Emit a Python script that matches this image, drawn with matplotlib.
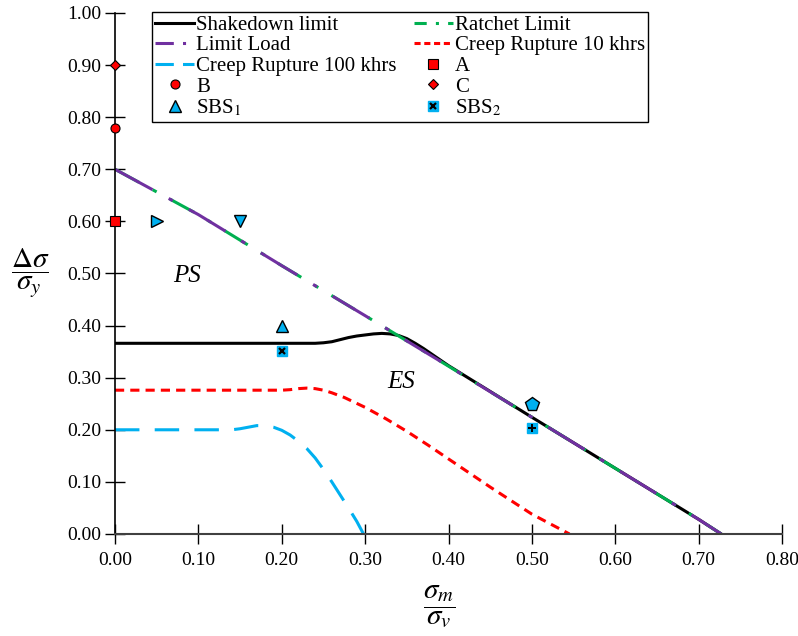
import numpy as np
import matplotlib.pyplot as plt
from matplotlib.lines import Line2D

plt.rcParams['font.family'] = ['Liberation Serif', 'DejaVu Serif']
plt.rcParams['mathtext.fontset'] = 'stix'

# curves (x = sigma_m / sigma_y, y = delta sigma / sigma_y)
limit_x = [0.0, 0.10, 0.20, 0.30, 0.40, 0.50, 0.60, 0.70, 0.727]
limit_y = [0.700, 0.613, 0.515, 0.419, 0.322, 0.224, 0.126, 0.028, 0.0]

shake_x = [0.0, 0.10, 0.20, 0.24, 0.25, 0.26, 0.27, 0.28, 0.29, 0.30, 0.31, 0.32, 0.33, 0.34,
           0.35, 0.36, 0.37, 0.38, 0.39, 0.40, 0.50, 0.60, 0.70, 0.727]
shake_y = [0.366, 0.366, 0.366, 0.366, 0.367, 0.369, 0.373, 0.377, 0.380, 0.382, 0.384, 0.385,
           0.384, 0.381, 0.375, 0.366, 0.356, 0.345, 0.334, 0.323, 0.224, 0.126, 0.028, 0.0]

cr10_x = [0.0, 0.10, 0.20, 0.21, 0.22, 0.23, 0.24, 0.25, 0.26, 0.275, 0.30, 0.325, 0.35,
          0.375, 0.40, 0.45, 0.50, 0.545]
cr10_y = [0.276, 0.276, 0.276, 0.277, 0.279, 0.280, 0.279, 0.276, 0.271, 0.262, 0.243, 0.221,
          0.197, 0.171, 0.144, 0.090, 0.038, 0.0]

cr100_x = [0.0, 0.10, 0.14, 0.15, 0.16, 0.17, 0.18, 0.19, 0.20, 0.21, 0.22, 0.23, 0.24,
           0.25, 0.26, 0.27, 0.28, 0.29, 0.298]
cr100_y = [0.200, 0.200, 0.200, 0.202, 0.205, 0.208, 0.208, 0.205, 0.199, 0.190, 0.178, 0.164,
           0.146, 0.124, 0.100, 0.075, 0.050, 0.024, 0.0]

# test points
pt_a = (0.0, 0.60)
pt_b = (0.0, 0.78)
pt_c = (0.0, 0.90)
sbs1_x = [0.20]
sbs1_y = [0.40]
sbs1_extra = [(0.05, 0.60, '>'), (0.15, 0.60, 'v'), (0.50, 0.25, 'p')]
sbs2_x = [0.20, 0.50]
sbs2_y = [0.352, 0.203]
sbs2_mark = ['x', 'P']

RED = '#FF0000'
BLUE = '#00B0F0'
GREEN = '#00B050'
PURPLE = '#7030A0'

fig = plt.figure(figsize=(7.98, 6.36), dpi=100)
ax = fig.add_axes([0.1441, 0.1604, 0.836, 0.8192])

ax.plot(shake_x, shake_y, color='black', lw=2.2)
ax.plot(limit_x, limit_y, color=GREEN, lw=2.2, dashes=(9, 5, 1.5, 5))
ax.plot(limit_x, limit_y, color=PURPLE, lw=2.2, dashes=(14, 6, 1.5, 6))
ax.plot(cr10_x, cr10_y, color=RED, lw=2.2, dashes=(3, 2))
ax.plot(cr100_x, cr100_y, color=BLUE, lw=2.2, dashes=(8, 5))

# shorter dash patterns for the legend keys
h_shake = Line2D([], [], color='black', lw=2.2)
h_ratch = Line2D([], [], color=GREEN, lw=2.2, dashes=(4, 3, 1, 3))
h_limit = Line2D([], [], color=PURPLE, lw=2.2, dashes=(6, 3, 1, 3))
h_cr10 = Line2D([], [], color=RED, lw=2.2, dashes=(2, 1.2))
h_cr100 = Line2D([], [], color=BLUE, lw=2.2, dashes=(6, 3))

h_a, = ax.plot(*pt_a, 's', color=RED, mec='black', mew=0.8, ms=6.5, ls='none', clip_on=False, zorder=5)
h_b, = ax.plot(*pt_b, 'o', color=RED, mec='black', mew=0.8, ms=6.5, ls='none', clip_on=False, zorder=5)
h_c, = ax.plot(*pt_c, 'D', color=RED, mec='black', mew=0.8, ms=5.5, ls='none', clip_on=False, zorder=5)

h_s1, = ax.plot(sbs1_x, sbs1_y, '^', color=BLUE, mec='black', mew=1, ms=8, ls='none', zorder=5)
for x, y, m in sbs1_extra:
    ax.plot(x, y, m, color=BLUE, mec='black', mew=1, ms=10 if m == 'p' else 9, ls='none', zorder=5)

for x, y, m in zip(sbs2_x, sbs2_y, sbs2_mark):
    ax.plot(x, y, 's', color=BLUE, mec=BLUE, ms=7, ls='none', zorder=5)
    ax.plot(x, y, m, color='black', mec='black', ms=5 if m == 'x' else 6, mew=1.6 if m == 'x' else 0,
            ls='none', zorder=6)
h_s2 = (Line2D([], [], marker='s', color=BLUE, mec=BLUE, ms=7, ls='none'),
        Line2D([], [], marker='x', color='black', ms=5, mew=1.6, ls='none'))

ax.text(0.086, 0.495, 'PS', fontsize=18, style='italic', ha='center', va='center')
ax.text(0.343, 0.292, 'ES', fontsize=18, style='italic', ha='center', va='center')

ax.set_xlim(0, 0.8)
ax.set_ylim(0, 1.0)
ax.set_xticks(np.arange(0, 0.81, 0.1))
ax.set_yticks(np.arange(0, 1.01, 0.1))
ax.xaxis.set_major_formatter(plt.FormatStrFormatter('%.2f'))
ax.yaxis.set_major_formatter(plt.FormatStrFormatter('%.2f'))
ax.tick_params(direction='inout', length=14, width=1, labelsize=14, colors='black')
ax.tick_params(axis='x', pad=6)
ax.tick_params(axis='y', pad=3)
for side in ('top', 'right'):
    ax.spines[side].set_visible(False)
ax.spines['left'].set_linewidth(1.2)
ax.spines['bottom'].set_linewidth(1.5)
ax.spines['bottom'].set_color('#404040')

fig.text(0.038, 0.572, r'$\dfrac{\Delta\sigma}{\sigma_y}$', fontsize=21, ha='center', va='center')
fig.text(0.551, 0.046, r'$\dfrac{\sigma_m}{\sigma_v}$', fontsize=21, ha='center', va='center')

# legend is filled row by row, two per row
handles = [h_shake, h_limit, h_cr100, h_b, h_s1, h_ratch, h_cr10, h_a, h_c, h_s2]
labels = ['Shakedown limit', 'Limit Load', 'Creep Rupture 100 khrs', 'B', 'SBS$_1$',
          'Ratchet Limit', 'Creep Rupture 10 khrs', 'A', 'C', 'SBS$_2$']
leg = fig.legend(handles, labels, ncol=2, loc='upper left', bbox_to_anchor=(0.19, 0.981),
                 borderaxespad=0, fontsize=15, frameon=True, fancybox=False, edgecolor='black',
                 framealpha=1, handlelength=1.9, handletextpad=0.1, columnspacing=0.8,
                 labelspacing=0.05, borderpad=0.15)
leg.get_frame().set_linewidth(1.0)

fig.savefig('out.png', dpi=100)
